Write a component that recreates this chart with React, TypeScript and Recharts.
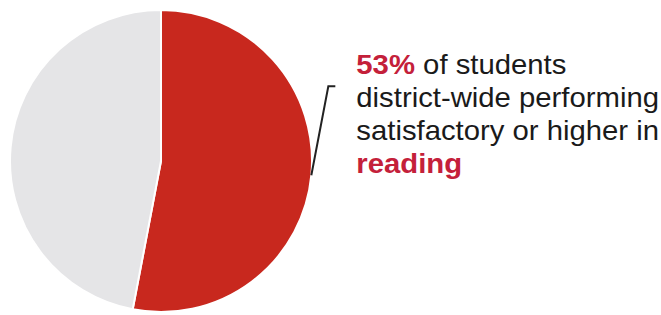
import React from 'react';
import { PieChart, Pie, Cell } from 'recharts';

const categories = ['Satisfactory or higher', 'Below satisfactory'];
const shares = [53, 47];
const colors = ['#c8281e', '#e5e5e7'];
const labelLines = ['of students', 'district-wide performing', 'satisfactory or higher in'];
const subject = 'reading';

const data = categories.map((name, i) => ({ name, value: shares[i] }));

const RAD = Math.PI / 180;

const renderLabel = (props: any) => {
  if (props.index !== 0) return null;
  const { cx, cy, midAngle, outerRadius } = props;
  const x0 = cx + outerRadius * Math.cos(-midAngle * RAD);
  const y0 = cy + outerRadius * Math.sin(-midAngle * RAD);
  const x1 = x0 + 17;
  const y1 = y0 - 89;
  const tx = x1 + 28;
  const fs = 27;
  // the original text is set a little wide
  const stretch = `translate(${tx},0) scale(1.085,1) translate(${-tx},0)`;
  return (
    <g>
      <polyline points={`${x0},${y0} ${x1},${y1} ${x1 + 7},${y1}`} fill="none" stroke="#222" strokeWidth={2} />
      <text x={tx} y={y1 - 12} transform={stretch} fontFamily="'Liberation Sans', Arial, sans-serif" fontSize={fs} fill="#1a1a1a">
        <tspan fill="#c4203a" fontWeight="bold">{props.value}%</tspan>
        <tspan> {labelLines[0]}</tspan>
        <tspan x={tx} dy={33}>{labelLines[1]}</tspan>
        <tspan x={tx} dy={33}>{labelLines[2]}</tspan>
        <tspan x={tx} dy={33} fill="#c4203a" fontWeight="bold">{subject}</tspan>
      </text>
    </g>
  );
};

const App: React.FC = () => {
  return (
    <div style={{ position: 'absolute', left: 0, top: 0, width: 661, height: 315, background: '#fff' }}>
      <PieChart width={661} height={315} margin={{ top: 0, right: 0, bottom: 0, left: 0 }}>
        <Pie
          data={data}
          dataKey="value"
          nameKey="name"
          cx={161}
          cy={161}
          outerRadius={151}
          startAngle={90}
          endAngle={-270}
          stroke="#fff"
          strokeWidth={2}
          label={renderLabel}
          labelLine={false}
          isAnimationActive={false}
        >
          {data.map((d, i) => (
            <Cell key={d.name} fill={colors[i]} />
          ))}
        </Pie>
      </PieChart>
    </div>
  );
};

export default App;
